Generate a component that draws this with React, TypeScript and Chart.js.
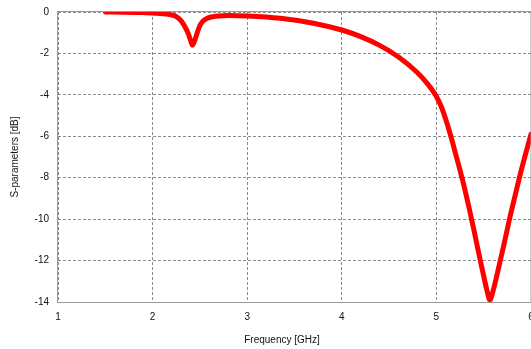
import React, { useEffect, useRef } from "react";
import { Chart, registerables } from "chart.js";

Chart.register(...registerables);

// Reflection coefficient sweep (GHz vs dB)
const frequencyGHz = [
  1.5, 1.7, 1.9, 2.05, 2.2, 2.25, 2.3, 2.34, 2.376, 2.4, 2.422, 2.445, 2.47,
  2.5, 2.53, 2.57, 2.62, 2.7, 2.8, 3.0, 3.35, 3.7, 4.0, 4.2, 4.4, 4.6, 4.8, 4.9,
  4.95, 5.0, 5.025, 5.05, 5.075, 5.1, 5.15, 5.2, 5.25, 5.3, 5.35, 5.4, 5.45,
  5.5, 5.535, 5.565, 5.6, 5.64, 5.68, 5.73, 5.78, 5.83, 5.88, 5.94, 6.0,
];
const sParamDb = [
  0, -0.01, -0.03, -0.06, -0.14, -0.22, -0.42, -0.7, -1.03, -1.35, -1.6, -1.38,
  -1.03, -0.65, -0.45, -0.32, -0.24, -0.19, -0.17, -0.19, -0.3, -0.54, -0.87,
  -1.19, -1.61, -2.17, -2.93, -3.43, -3.73, -4.08, -4.3, -4.55, -4.86, -5.2,
  -5.95, -6.8, -7.65, -8.55, -9.55, -10.6, -11.7, -12.75, -13.45, -13.9, -13.45,
  -12.7, -11.9, -10.9, -9.85, -8.9, -7.95, -6.9, -5.9,
];

const xTicks = [1, 2, 3, 4, 5, 6];
const yTicks = [0, -2, -4, -6, -8, -10, -12, -14];
const xTitle = "Frequency [GHz]";
const yTitle = "S-parameters [dB]";

const FONT = "'Liberation Sans', Arial, sans-serif";

// Solid frame around the plot plus the two axis titles
const framePlugin = {
  id: "frameAndTitles",
  afterDraw(chart: any) {
    const { ctx, chartArea } = chart;
    const { left, top, right, bottom } = chartArea;
    ctx.save();
    ctx.strokeStyle = "#9a9a9a";
    ctx.lineWidth = 1;
    ctx.setLineDash([]);
    ctx.strokeRect(left - 0.5, top - 0.5, right - left + 0.5, bottom - top + 1);
    ctx.fillStyle = "#111";
    ctx.font = `10px ${FONT}`;
    ctx.textAlign = "center";
    ctx.textBaseline = "middle";
    ctx.fillText(xTitle, 282, 340);
    ctx.translate(15, (top + bottom) / 2);
    ctx.rotate(-Math.PI / 2);
    ctx.fillText(yTitle, 0, 0);
    ctx.restore();
  },
};

export default function App() {
  const canvasRef = useRef<HTMLCanvasElement>(null);

  useEffect(() => {
    if (!canvasRef.current) return;
    const points = frequencyGHz.map((f, i) => ({ x: f, y: sParamDb[i] }));
    const chart = new Chart(canvasRef.current, {
      type: "line",
      data: {
        datasets: [
          {
            data: points,
            borderColor: "#ff0000",
            borderWidth: 5,
            pointRadius: 0,
            cubicInterpolationMode: "monotone",
            borderCapStyle: "round",
            borderJoinStyle: "round",
            fill: false,
          },
        ],
      },
      options: {
        animation: false,
        responsive: false,
        events: [],
        layout: { padding: { top: 12, right: 14, left: 0, bottom: 0 } },
        plugins: { legend: { display: false }, tooltip: { enabled: false } },
        scales: {
          x: {
            type: "linear",
            min: xTicks[0],
            max: xTicks[xTicks.length - 1],
            afterBuildTicks: (s: any) => {
              s.ticks = xTicks.map((v) => ({ value: v }));
            },
            afterFit: (s: any) => {
              s.height = 47;
            },
            grid: {
              drawTicks: false,
              color: "#8a8a8a",
              lineWidth: 1,
            },
            border: { display: false, dash: [3, 2] },
            ticks: {
              padding: 9,
              maxRotation: 0,
              color: "#111",
              font: { family: FONT, size: 10 },
            },
          },
          y: {
            type: "linear",
            min: yTicks[yTicks.length - 1],
            max: yTicks[0],
            afterBuildTicks: (s: any) => {
              s.ticks = yTicks.map((v) => ({ value: v }));
            },
            afterFit: (s: any) => {
              s.width = 58;
              s.paddingTop = 0;
              s.paddingBottom = 0;
            },
            grid: {
              drawTicks: false,
              color: "#8a8a8a",
              lineWidth: 1,
            },
            border: { display: false, dash: [3, 2] },
            ticks: {
              padding: 9,
              color: "#111",
              font: { family: FONT, size: 10 },
            },
          },
        },
      },
      plugins: [framePlugin],
    } as any);
    return () => chart.destroy();
  }, []);

  return (
    <div
      style={{
        position: "fixed",
        left: 0,
        top: 0,
        width: 531,
        height: 349,
        overflow: "hidden",
        background: "#fff",
      }}
    >
      <canvas ref={canvasRef} width={545} height={349} />
    </div>
  );
}
